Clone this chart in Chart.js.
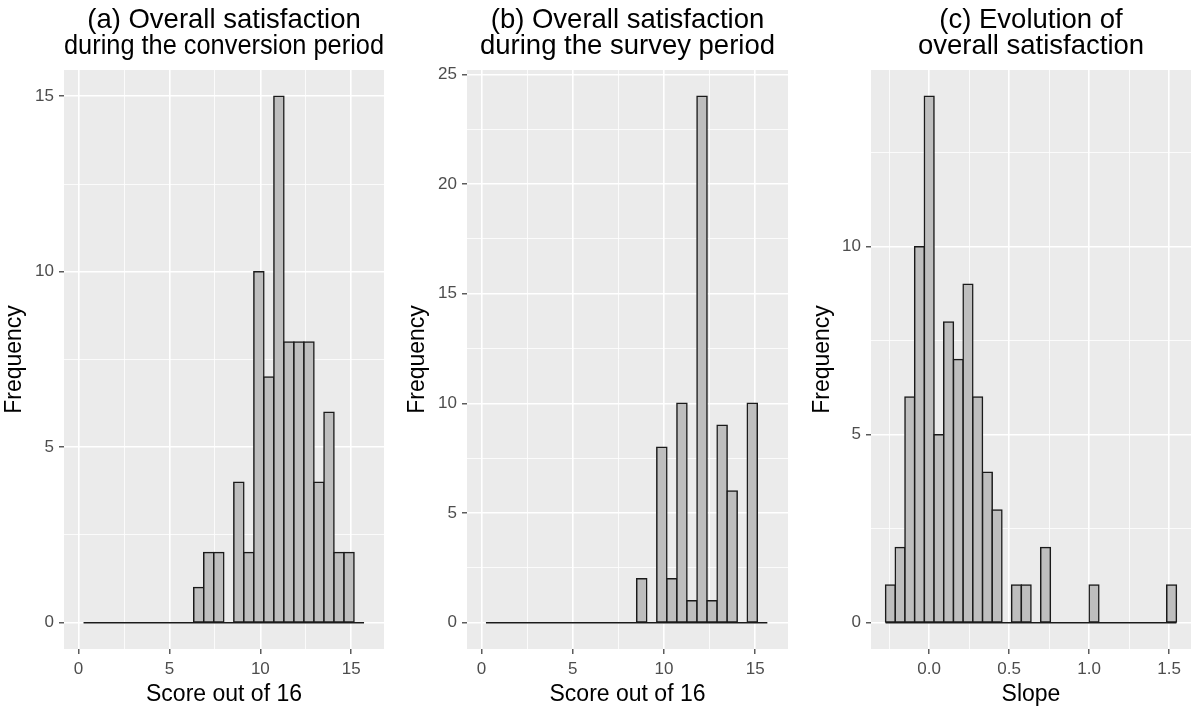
<!DOCTYPE html>
<html><head><meta charset="utf-8">
<script src="https://cdn.jsdelivr.net/npm/chart.js@4.4.1/dist/chart.umd.min.js"></script>
<style>
html,body{margin:0;padding:0;background:#fff;}
body{width:1191px;height:708px;position:relative;overflow:hidden;}
canvas{position:absolute;top:0;}
</style></head><body>
<canvas id="ca" style="left:0px" width="395" height="708"></canvas>
<canvas id="cb" style="left:402px" width="398" height="708"></canvas>
<canvas id="cc" style="left:807px" width="384" height="708"></canvas>
<script>
// ---- Panel (a) ----
const titleA = ['(a) Overall satisfaction', 'during the conversion period'];
const xTitleA = 'Score out of 16';
const binCentersA = [0.550,1.101,1.652,2.203,2.754,3.305,3.856,4.407,4.958,5.509,6.060,6.611,7.162,7.713,8.264,8.815,9.366,9.917,10.468,11.019,11.570,12.121,12.672,13.223,13.774,14.325,14.876,15.427];
const countsA = [0,0,0,0,0,0,0,0,0,0,0,1,2,2,0,4,2,10,7,15,8,8,8,4,6,2,2,0];
const xMajorA = [0,5,10,15];
const xMinorA = [2.5,7.5,12.5];
const xLabelsA = ['0','5','10','15'];
const yMajorA = [0,5,10,15];
const yMinorA = [2.5,7.5,12.5];

// ---- Panel (b) ----
const titleB = ['(b) Overall satisfaction', 'during the survey period'];
const xTitleB = 'Score out of 16';
const binCentersB = [0.515,1.066,1.617,2.168,2.719,3.270,3.821,4.372,4.923,5.474,6.025,6.576,7.127,7.678,8.229,8.780,9.331,9.882,10.433,10.984,11.535,12.086,12.637,13.188,13.739,14.290,14.841,15.392];
const countsB = [0,0,0,0,0,0,0,0,0,0,0,0,0,0,0,2,0,8,2,10,1,24,1,9,6,0,10,0];
const xMajorB = [0,5,10,15];
const xMinorB = [2.5,7.5,12.5];
const xLabelsB = ['0','5','10','15'];
const yMajorB = [0,5,10,15,20,25];
const yMinorB = [2.5,7.5,12.5,17.5,22.5];

// ---- Panel (c) ----
const titleC = ['(c) Evolution of', 'overall satisfaction'];
const xTitleC = 'Slope';
const binCentersC = [-0.2417,-0.1811,-0.1205,-0.0599,0.0007,0.0613,0.1219,0.1825,0.2431,0.3037,0.3643,0.4249,0.4855,0.5461,0.6067,0.6673,0.7279,0.7885,0.8491,0.9097,0.9703,1.0309,1.0915,1.1521,1.2127,1.2733,1.3339,1.3945,1.4551,1.5157];
const countsC = [1,2,6,10,14,5,8,7,9,6,4,3,0,1,1,0,2,0,0,0,0,1,0,0,0,0,0,0,0,1];
const xMajorC = [0,0.5,1,1.5];
const xMinorC = [-0.25,0.25,0.75,1.25];
const xLabelsC = ['0.0','0.5','1.0','1.5'];
const yMajorC = [0,5,10];
const yMinorC = [2.5,7.5,12.5];

const yTitle = 'Frequency';
const FONT = "'Liberation Sans', Arial, Helvetica, sans-serif";
Chart.defaults.font.family = FONT;

const panelBg = {
  id: 'panelBg',
  beforeDraw(chart) {
    const {ctx, chartArea: a} = chart;
    ctx.save();
    ctx.fillStyle = '#EBEBEB';
    ctx.fillRect(a.left, a.top, a.right - a.left, a.bottom - a.top);
    ctx.restore();
  }
};

function makeChart(id, cfg) {
  const ticksX = cfg.xMajor.concat(cfg.xMinor).sort((p, q) => p - q);
  const ticksY = cfg.yMajor.concat(cfg.yMinor).sort((p, q) => p - q);
  const half = (cfg.centers[1] - cfg.centers[0]) / 2;
  const bars = cfg.centers.map((c, i) => ({x: c, y: cfg.counts[i]}));
  const base = [
    {x: cfg.centers[0] - half, y: 0},
    {x: cfg.centers[cfg.centers.length - 1] + half, y: 0}
  ];
  const isMajX = c => c.tick && cfg.xMajor.includes(c.tick.value);
  const isMajY = c => c.tick && cfg.yMajor.includes(c.tick.value);
  new Chart(document.getElementById(id), {
    type: 'bar',
    data: {
      datasets: [
        {type: 'line', data: base, borderColor: '#1a1a1a', borderWidth: 1.6, pointRadius: 0, order: 0},
        {type: 'bar', data: bars, backgroundColor: '#BEBEBE', borderColor: '#1a1a1a', borderWidth: 1.5,
          inflateAmount: 0.75, borderSkipped: false, barPercentage: 1, categoryPercentage: 1, order: 1}
      ]
    },
    options: {
      responsive: false,
      animation: false,
      layout: {padding: {left: 0, right: cfg.padRight, top: 0, bottom: 0}},
      plugins: {
        legend: {display: false},
        tooltip: {enabled: false},
        title: {
          display: true, fullSize: false, text: cfg.title, color: '#000000',
          font: {family: FONT, size: 27.5, weight: 'normal', lineHeight: 0.945},
          padding: {top: 7, bottom: 11}
        }
      },
      scales: {
        x: {
          type: 'linear', min: cfg.xMin, max: cfg.xMax, offset: false,
          afterBuildTicks: s => { s.ticks = ticksX.map(v => ({value: v})); },
          afterFit: s => { s.height = 59; },
          ticks: {
            autoSkip: false, maxRotation: 0, minRotation: 0, padding: 5, color: '#4D4D4D',
            font: {family: FONT, size: 17},
            callback: v => { const i = cfg.xMajor.indexOf(v); return i >= 0 ? cfg.xLabels[i] : ''; }
          },
          grid: {
            offset: false, color: '#FFFFFF',
            lineWidth: c => isMajX(c) ? 1.6 : 0.8,
            tickColor: c => isMajX(c) ? '#333333' : 'rgba(0,0,0,0)',
            tickLength: 5, tickWidth: 1.2
          },
          border: {display: false},
          title: {display: true, text: cfg.xTitle, color: '#000000', font: {family: FONT, size: 23}, padding: {top: 0, bottom: 0}}
        },
        y: {
          type: 'linear', min: cfg.yMin, max: cfg.yMax,
          afterBuildTicks: s => { s.ticks = ticksY.map(v => ({value: v})); },
          afterFit: s => { s.width = cfg.yWidth; },
          ticks: {
            autoSkip: false, padding: 5, color: '#4D4D4D',
            font: {family: FONT, size: 17},
            callback: v => cfg.yMajor.includes(v) ? String(v) : ''
          },
          grid: {
            color: '#FFFFFF',
            lineWidth: c => isMajY(c) ? 1.6 : 0.8,
            tickColor: c => isMajY(c) ? '#333333' : 'rgba(0,0,0,0)',
            tickLength: 5, tickWidth: 1.2
          },
          border: {display: false},
          title: {display: true, text: yTitle, color: '#000000', font: {family: FONT, size: 23}, padding: {top: cfg.yTitlePad, bottom: 0}}
        }
      }
    },
    plugins: [panelBg]
  });
}

makeChart('ca', {title: titleA, xTitle: xTitleA, centers: binCentersA, counts: countsA,
  xMajor: xMajorA, xMinor: xMinorA, xLabels: xLabelsA, yMajor: yMajorA, yMinor: yMinorA,
  xMin: -0.8, xMax: 16.8, yMin: -0.75, yMax: 15.75, yWidth: 64, padRight: 11, yTitlePad: 1});
makeChart('cb', {title: titleB, xTitle: xTitleB, centers: binCentersB, counts: countsB,
  xMajor: xMajorB, xMinor: xMinorB, xLabels: xLabelsB, yMajor: yMajorB, yMinor: yMinorB,
  xMin: -0.8, xMax: 16.8, yMin: -1.2, yMax: 25.2, yWidth: 65, padRight: 12, yTitlePad: 2});
makeChart('cc', {title: titleC, xTitle: xTitleC, centers: binCentersC, counts: countsC,
  xMajor: xMajorC, xMinor: xMinorC, xLabels: xLabelsC, yMajor: yMajorC, yMinor: yMinorC,
  xMin: -0.363, xMax: 1.637, yMin: -0.7, yMax: 14.7, yWidth: 64, padRight: 0, yTitlePad: 2});
</script>
</body></html>
